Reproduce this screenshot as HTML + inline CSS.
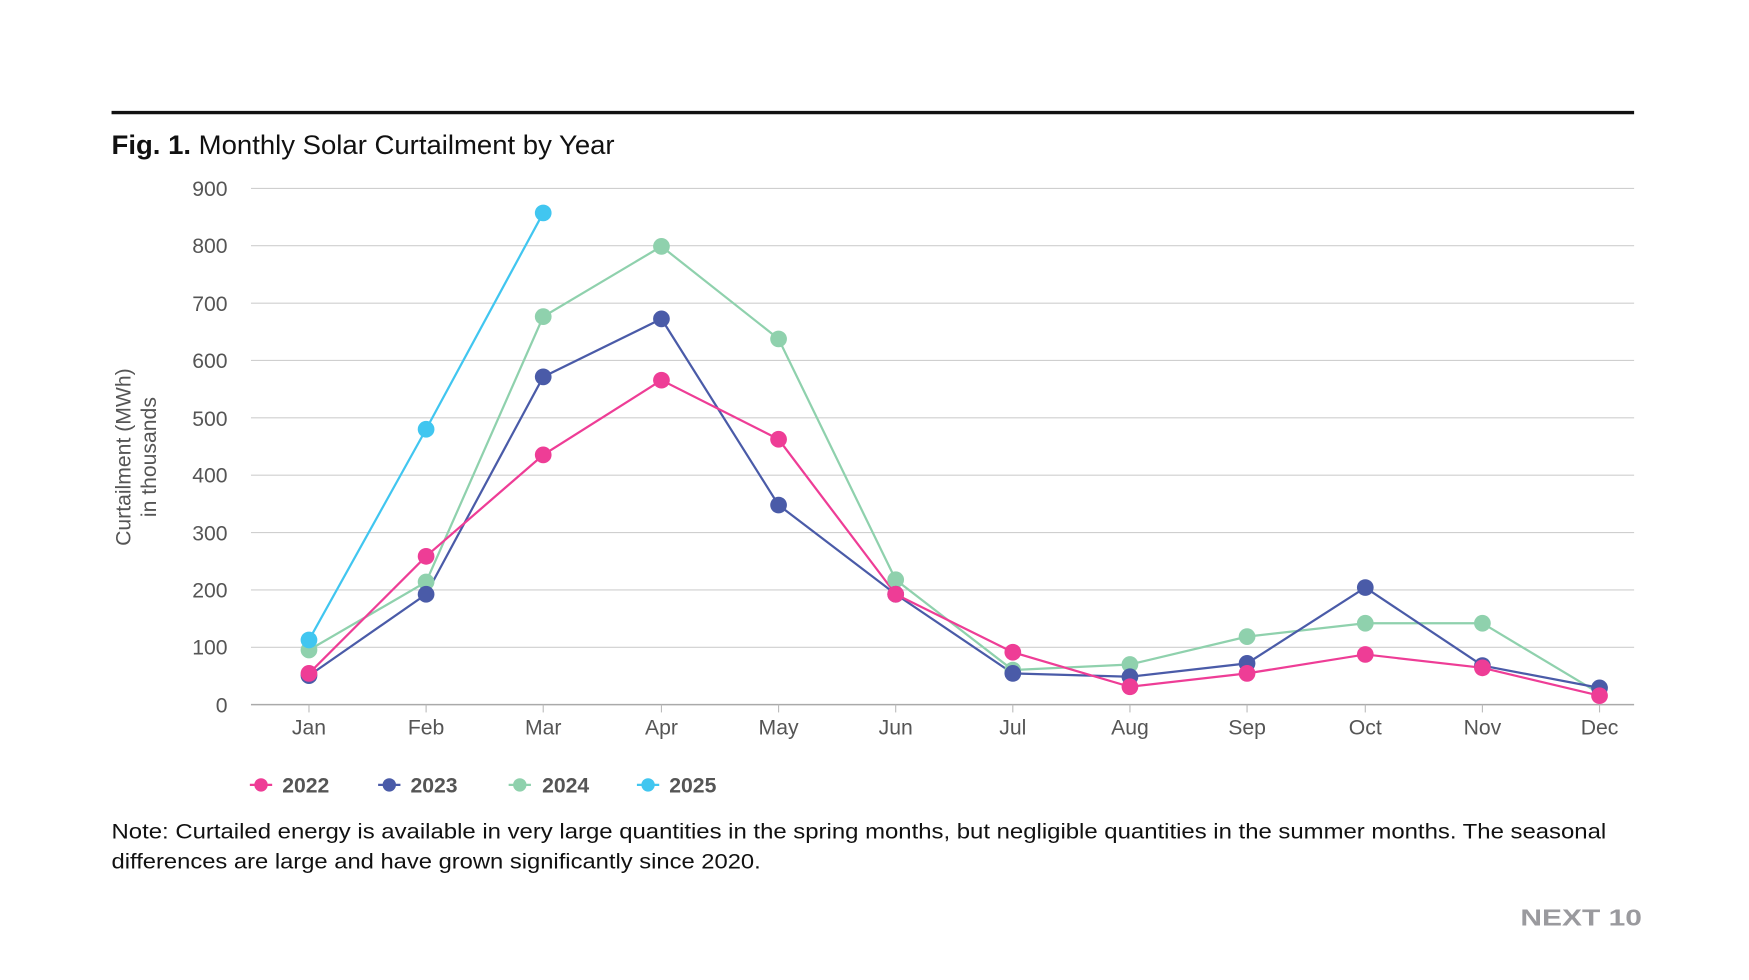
<!DOCTYPE html>
<html><head><meta charset="utf-8"><style>html,body{margin:0;padding:0;background:#fff}svg{display:block}</style></head>
<body>
<svg width="1749" height="980" viewBox="0 0 1568 879" preserveAspectRatio="none" xmlns="http://www.w3.org/2000/svg" font-family="Liberation Sans, sans-serif">
<rect width="1568" height="879" fill="#fff"/>
<line x1="100" y1="101" x2="1465" y2="101" stroke="#111" stroke-width="3"/>
<text x="100" y="138" font-size="24" fill="#111" textLength="451" lengthAdjust="spacingAndGlyphs"><tspan font-weight="bold">Fig. 1.</tspan> Monthly Solar Curtailment by Year</text>
<g stroke="#cfcfcf" stroke-width="1">
<line x1="225" x2="1465" y1="169" y2="169"/><line x1="225" x2="1465" y1="220.4" y2="220.4"/><line x1="225" x2="1465" y1="271.9" y2="271.9"/><line x1="225" x2="1465" y1="323.3" y2="323.3"/><line x1="225" x2="1465" y1="374.8" y2="374.8"/><line x1="225" x2="1465" y1="426.2" y2="426.2"/><line x1="225" x2="1465" y1="477.7" y2="477.7"/><line x1="225" x2="1465" y1="529.1" y2="529.1"/><line x1="225" x2="1465" y1="580.6" y2="580.6"/>
</g>
<line x1="225" x2="1465" y1="632" y2="632" stroke="#aaa" stroke-width="1.3"/>
<g stroke="#bbb"><line x1="277" x2="277" y1="632" y2="639"/><line x1="382" x2="382" y1="632" y2="639"/><line x1="487" x2="487" y1="632" y2="639"/><line x1="593" x2="593" y1="632" y2="639"/><line x1="698" x2="698" y1="632" y2="639"/><line x1="803" x2="803" y1="632" y2="639"/><line x1="908" x2="908" y1="632" y2="639"/><line x1="1013" x2="1013" y1="632" y2="639"/><line x1="1118" x2="1118" y1="632" y2="639"/><line x1="1224" x2="1224" y1="632" y2="639"/><line x1="1329" x2="1329" y1="632" y2="639"/><line x1="1434" x2="1434" y1="632" y2="639"/></g>
<g font-size="19" fill="#555" text-anchor="end">
<text x="204" y="176">900</text><text x="204" y="227">800</text><text x="204" y="279">700</text><text x="204" y="330">600</text><text x="204" y="382">500</text><text x="204" y="433">400</text><text x="204" y="485">300</text><text x="204" y="536">200</text><text x="204" y="587">100</text><text x="204" y="639">0</text>
</g>
<g font-size="19" fill="#555" text-anchor="middle">
<text x="277" y="659">Jan</text><text x="382" y="659">Feb</text><text x="487" y="659">Mar</text><text x="593" y="659">Apr</text><text x="698" y="659">May</text><text x="803" y="659">Jun</text><text x="908" y="659">Jul</text><text x="1013" y="659">Aug</text><text x="1118" y="659">Sep</text><text x="1224" y="659">Oct</text><text x="1329" y="659">Nov</text><text x="1434" y="659">Dec</text>
</g>
<g font-size="19" fill="#555" text-anchor="middle" transform="translate(117,410) rotate(-90)">
<text x="0" y="0">Curtailment (MWh)</text><text x="0" y="23">in thousands</text>
</g>
<g fill="none" stroke-width="2">
<polyline stroke="#8fd1ad" points="277,583 382,522 487,284 593,221 698,304 803,520 908,601 1013,596 1118,571 1224,559 1329,559 1434,622"/>
<polyline stroke="#4a5ba8" points="277,606 382,533 487,338 593,286 698,453 803,533 908,604 1013,607 1118,595 1224,527 1329,597 1434,617"/>
<polyline stroke="#ee3d96" points="277,604 382,499 487,408 593,341 698,394 803,533 908,585 1013,616 1118,604 1224,587 1329,599 1434,624"/>
<polyline stroke="#41c6f0" points="277,574 382,385 487,191"/>
</g>
<g fill="#8fd1ad"><circle cx="277" cy="583" r="7.5"/><circle cx="382" cy="522" r="7.5"/><circle cx="487" cy="284" r="7.5"/><circle cx="593" cy="221" r="7.5"/><circle cx="698" cy="304" r="7.5"/><circle cx="803" cy="520" r="7.5"/><circle cx="908" cy="601" r="7.5"/><circle cx="1013" cy="596" r="7.5"/><circle cx="1118" cy="571" r="7.5"/><circle cx="1224" cy="559" r="7.5"/><circle cx="1329" cy="559" r="7.5"/></g>
<g fill="#4a5ba8"><circle cx="277" cy="606" r="7.5"/><circle cx="382" cy="533" r="7.5"/><circle cx="487" cy="338" r="7.5"/><circle cx="593" cy="286" r="7.5"/><circle cx="698" cy="453" r="7.5"/><circle cx="803" cy="533" r="7.5"/><circle cx="908" cy="604" r="7.5"/><circle cx="1013" cy="607" r="7.5"/><circle cx="1118" cy="595" r="7.5"/><circle cx="1224" cy="527" r="7.5"/><circle cx="1329" cy="597" r="7.5"/><circle cx="1434" cy="617" r="7.5"/></g>
<g fill="#ee3d96"><circle cx="277" cy="604" r="7.5"/><circle cx="382" cy="499" r="7.5"/><circle cx="487" cy="408" r="7.5"/><circle cx="593" cy="341" r="7.5"/><circle cx="698" cy="394" r="7.5"/><circle cx="803" cy="533" r="7.5"/><circle cx="908" cy="585" r="7.5"/><circle cx="1013" cy="616" r="7.5"/><circle cx="1118" cy="604" r="7.5"/><circle cx="1224" cy="587" r="7.5"/><circle cx="1329" cy="599" r="7.5"/><circle cx="1434" cy="624" r="7.5"/></g>
<g fill="#41c6f0"><circle cx="277" cy="574" r="7.5"/><circle cx="382" cy="385" r="7.5"/><circle cx="487" cy="191" r="7.5"/></g>
<g font-size="19" font-weight="bold" fill="#555">
<line x1="224" x2="244" y1="704" y2="704" stroke="#ee3d96" stroke-width="2"/><circle cx="234" cy="704" r="6" fill="#ee3d96"/><text x="253" y="711">2022</text>
<line x1="339" x2="359" y1="704" y2="704" stroke="#4a5ba8" stroke-width="2"/><circle cx="349" cy="704" r="6" fill="#4a5ba8"/><text x="368" y="711">2023</text>
<line x1="456" x2="476" y1="704" y2="704" stroke="#8fd1ad" stroke-width="2"/><circle cx="466" cy="704" r="6" fill="#8fd1ad"/><text x="486" y="711">2024</text>
<line x1="571" x2="591" y1="704" y2="704" stroke="#41c6f0" stroke-width="2"/><circle cx="581" cy="704" r="6" fill="#41c6f0"/><text x="600" y="711">2025</text>
</g>
<g font-size="19" fill="#111">
<text x="100" y="752" textLength="1340" lengthAdjust="spacingAndGlyphs">Note: Curtailed energy is available in very large quantities in the spring months, but negligible quantities in the summer months. The seasonal</text>
<text x="100" y="779" textLength="582" lengthAdjust="spacingAndGlyphs">differences are large and have grown significantly since 2020.</text>
</g>
<text x="1363" y="830" font-size="21" font-weight="bold" fill="#9a9a9e" textLength="109" lengthAdjust="spacingAndGlyphs">NEXT 10</text>
</svg>
</body></html>
